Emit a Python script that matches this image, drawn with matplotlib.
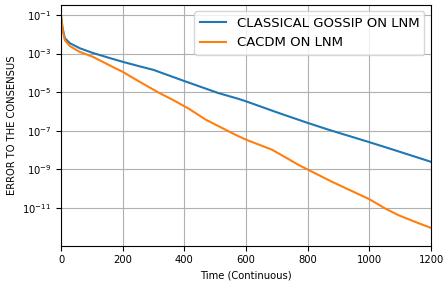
import matplotlib
matplotlib.use("Agg")
import matplotlib.pyplot as plt
from matplotlib.ticker import FixedLocator, NullLocator

# values (log10 of the error)
t_gossip = [0, 5, 12, 28, 60, 103, 157, 200, 254, 300, 400, 510, 577, 600, 705, 800, 867,
            1000, 1093, 1200]
log_gossip = [-1.09, -1.7, -2.2, -2.46, -2.72, -2.97, -3.23, -3.43, -3.66, -3.85, -4.43, -5.05,
              -5.36, -5.48, -6.08, -6.6, -6.95, -7.6, -8.07, -8.62]

t_cacdm = [0, 5, 12, 28, 60, 103, 135, 178, 200, 254, 319, 362, 416, 469, 566, 600, 684, 738,
           770, 878, 1000, 1050, 1093, 1146, 1200]
log_cacdm = [-1.09, -1.8, -2.3, -2.61, -2.91, -3.17, -3.43, -3.78, -3.95, -4.46, -5.05, -5.4,
             -5.88, -6.43, -7.22, -7.47, -7.99, -8.48, -8.78, -9.65, -10.56, -11.03, -11.38,
             -11.72, -12.05]

labels = ["CLASSICAL GOSSIP ON LNM", "CACDM ON LNM"]
ytick_pos = [1e-1, 1e-3, 1e-5, 1e-7, 1e-9, 1e-11]

fig = plt.figure(figsize=(4.43, 2.83), dpi=100)
ax = fig.add_axes([0.138, 0.132, 0.835, 0.851])

ax.plot(t_gossip, [10 ** v for v in log_gossip], color="#1f77b4", lw=1.5, label=labels[0])
ax.plot(t_cacdm, [10 ** v for v in log_cacdm], color="#ff7f0e", lw=1.5, label=labels[1])

ax.set_yscale("log")
ax.set_xlim(0, 1200)
ax.set_ylim(10 ** -12.97, 10 ** -0.47)
ax.yaxis.set_major_locator(FixedLocator(ytick_pos))
ax.yaxis.set_minor_locator(NullLocator())

ax.grid(True, color="#b0b0b0", lw=0.8)
ax.tick_params(labelsize=7.2, length=3.5)
ax.set_xlabel("Time (Continuous)", fontsize=7.2)
ax.set_ylabel("ERROR TO THE CONSENSUS", fontsize=7.2)
ax.legend(loc="upper right", fontsize=9.5)

fig.savefig("out.png", dpi=100)
